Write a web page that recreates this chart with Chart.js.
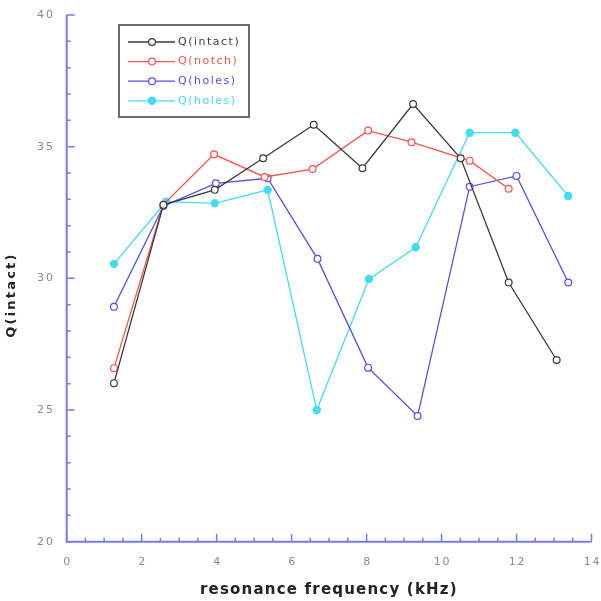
<!DOCTYPE html>
<html>
<head>
<meta charset="utf-8">
<script src="https://cdn.jsdelivr.net/npm/chart.js@4.4.1/dist/chart.umd.min.js"></script>
<style>
  html, body { margin: 0; padding: 0; background: #fff; }
  #wrap { width: 601px; height: 601px; }
</style>
</head>
<body>
<div id="wrap"><canvas id="c" width="601" height="601"></canvas></div>
<script>
// Resonance frequency (kHz) and quality factor Q for each specimen state
const intactFreq  = [1.26, 2.58, 3.95, 5.24, 6.59, 7.89, 9.24, 10.51, 11.79, 13.07];
const intactQ     = [26.02, 32.79, 33.36, 34.56, 35.83, 34.18, 36.62, 34.56, 29.84, 26.9];

const notchFreq   = [1.26, 2.58, 3.93, 5.28, 6.56, 8.04, 9.2, 10.75, 11.79];
const notchQ      = [26.59, 32.8, 34.71, 33.85, 34.15, 35.61, 35.17, 34.47, 33.4];

const holesFreq   = [1.26, 2.58, 3.98, 5.36, 6.69, 8.04, 9.36, 10.75, 12.0, 13.38];
const holesQ      = [28.92, 32.75, 33.61, 33.8, 30.74, 26.61, 24.77, 33.48, 33.89, 29.84];

const holes2Freq  = [1.26, 2.65, 3.95, 5.36, 6.67, 8.06, 9.31, 10.75, 11.97, 13.38];
const holes2Q     = [30.55, 32.91, 32.85, 33.36, 25.0, 29.97, 31.18, 35.53, 35.53, 33.13];

const seriesNames = ['Q(intact)', 'Q(notch)', 'Q(holes)', 'Q(holes)'];
const xTickLabels = ['0', '2', '4', '6', '8', '10', '12', '14'];
const yTickLabels = ['20', '25', '30', '35', '40'];

const AXIS_COLOR = '#7a7af0';
const TICK_TEXT = '#8a8a8a';

function pts(xs, ys) { return xs.map((x, i) => ({ x: x, y: ys[i] })); }

function series(label, xs, ys, color, filled) {
  return {
    label: label,
    data: pts(xs, ys),
    showLine: true,
    borderColor: color,
    borderWidth: 1.3,
    backgroundColor: filled ? color : '#ffffff',
    pointBackgroundColor: filled ? color : '#ffffff',
    pointBorderColor: color,
    pointBorderWidth: 1.2,
    pointRadius: filled ? 3.6 : 3.4,
    pointHoverRadius: 3.4,
    tension: 0
  };
}

const datasets = [
  series(seriesNames[0], intactFreq, intactQ, '#3a3a3a', false),
  series(seriesNames[1], notchFreq, notchQ, '#ff5050', false),
  series(seriesNames[2], holesFreq, holesQ, '#5050e8', false),
  series(seriesNames[3], holes2Freq, holes2Q, '#44dcee', true)
];

// Axis lines with inward major/minor ticks
const axesPlugin = {
  id: 'axesFrame',
  beforeDatasetsDraw(chart) {
    const ctx = chart.ctx;
    const xs = chart.scales.x, ys = chart.scales.y;
    const L = xs.getPixelForValue(xs.min), R = xs.getPixelForValue(xs.max);
    const B = ys.getPixelForValue(ys.min), T = ys.getPixelForValue(ys.max);
    ctx.save();
    ctx.strokeStyle = AXIS_COLOR;
    ctx.lineWidth = 2;
    ctx.beginPath();
    ctx.moveTo(L, T);
    ctx.lineTo(L, B);
    ctx.lineTo(R, B);
    ctx.stroke();
    ctx.lineWidth = 1.5;
    ctx.beginPath();
    for (let v = xs.min; v <= xs.max + 1e-9; v += 0.5) {
      const px = xs.getPixelForValue(v);
      const len = Math.abs(v % 2) < 1e-9 ? 8 : 4;
      ctx.moveTo(px, B);
      ctx.lineTo(px, B - len);
    }
    for (let v = ys.min; v <= ys.max + 1e-9; v += 1) {
      const py = ys.getPixelForValue(v);
      const len = Math.abs(v % 5) < 1e-9 ? 8 : 4;
      ctx.moveTo(L, py);
      ctx.lineTo(L + len, py);
    }
    ctx.stroke();
    ctx.restore();
  },
  afterDraw(chart) {
    const ctx = chart.ctx;
    const xs = chart.scales.x, ys = chart.scales.y;
    ctx.save();
    ctx.fillStyle = TICK_TEXT;
    ctx.font = '11px "DejaVu Sans"';
    ctx.letterSpacing = '1.8px';
    ctx.textBaseline = 'middle';
    ctx.textAlign = 'center';
    const B = ys.getPixelForValue(ys.min);
    xTickLabels.forEach(t => {
      ctx.fillText(t, xs.getPixelForValue(Number(t)) + 1, B + 20);
    });
    ctx.textAlign = 'right';
    const L = xs.getPixelForValue(xs.min);
    yTickLabels.forEach(t => {
      ctx.fillText(t, L - 12, ys.getPixelForValue(Number(t)));
    });

    // axis titles
    ctx.fillStyle = '#222';
    ctx.font = 'bold 15px "DejaVu Sans"';
    ctx.letterSpacing = '1.2px';
    ctx.textAlign = 'left';
    ctx.textBaseline = 'alphabetic';
    ctx.fillText('resonance frequency (kHz)', 200, 594);
    ctx.font = 'bold 13px "DejaVu Sans"';
    ctx.textBaseline = 'middle';
    ctx.translate(12, 295);
    ctx.rotate(-Math.PI / 2);
    ctx.textAlign = 'center';
    ctx.letterSpacing = '2.2px';
    ctx.fillText('Q(intact)', 0, 0);
    ctx.restore();
  }
};

// Boxed legend inside the plot, upper left
const legendBox = {
  id: 'legendBox',
  afterDatasetsDraw(chart) {
    const ctx = chart.ctx;
    ctx.save();
    ctx.fillStyle = '#ffffff';
    ctx.fillRect(119, 25, 130, 92);
    ctx.strokeStyle = '#6a6a6a';
    ctx.lineWidth = 2;
    ctx.strokeRect(119, 25, 130, 92);
    ctx.font = '11px "DejaVu Sans"';
    ctx.letterSpacing = '1.5px';
    ctx.textBaseline = 'middle';
    ctx.textAlign = 'left';
    chart.data.datasets.forEach((ds, i) => {
      const y = 42 + i * 19.6;
      ctx.strokeStyle = ds.borderColor;
      ctx.lineWidth = 1.3;
      ctx.beginPath();
      ctx.moveTo(128, y);
      ctx.lineTo(175, y);
      ctx.stroke();
      ctx.beginPath();
      ctx.arc(152, y, ds.pointRadius, 0, Math.PI * 2);
      ctx.fillStyle = ds.pointBackgroundColor;
      ctx.fill();
      ctx.lineWidth = 1.2;
      ctx.stroke();
      ctx.fillStyle = ds.borderColor;
      ctx.fillText(ds.label, 178, y);
    });
    ctx.restore();
  }
};

new Chart(document.getElementById('c'), {
  type: 'scatter',
  data: { datasets: datasets },
  options: {
    responsive: false,
    animation: false,
    events: [],
    layout: { padding: { left: 0, top: 15, right: 9.5, bottom: 0 } },
    plugins: {
      legend: { display: false },
      tooltip: { enabled: false },
      title: { display: false }
    },
    scales: {
      x: {
        type: 'linear',
        min: 0, max: 14,
        grid: { display: false, drawTicks: false },
        border: { display: false },
        ticks: { display: false, stepSize: 2 },
        afterFit(scale) { scale.height = 59.3; }
      },
      y: {
        type: 'linear',
        min: 20, max: 40,
        grid: { display: false, drawTicks: false },
        border: { display: false },
        ticks: { display: false, stepSize: 5 },
        afterFit(scale) { scale.width = 66.7; }
      }
    }
  },
  plugins: [axesPlugin, legendBox]
});
</script>
</body>
</html>
